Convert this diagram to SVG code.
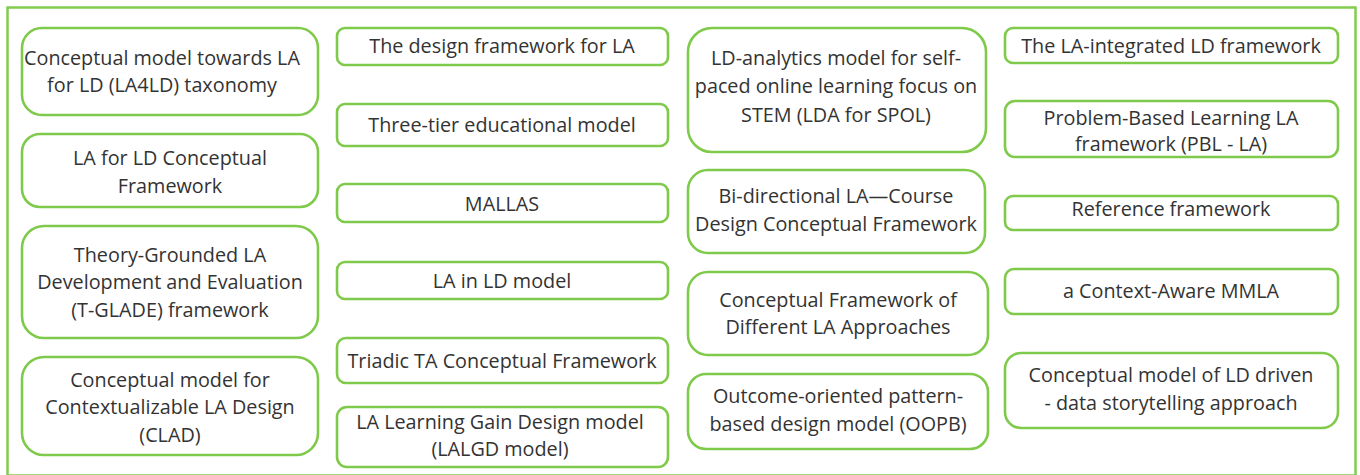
<svg xmlns="http://www.w3.org/2000/svg" width="1360" height="475" viewBox="0 0 1360 475">
  <style>
    .frame { fill: #ffffff; stroke: #82cc4e; stroke-width: 2.5; }
    .box { fill: #ffffff; stroke: #7fca4a; stroke-width: 2.6; }
    .lbl { font-family: "Open Sans", "Liberation Sans", sans-serif; font-size: 19.8px; fill: #333333; text-anchor: middle; }
  </style>
  <rect width="1360" height="475" fill="#ffffff"/>
  <rect class="frame" x="7.5" y="7.5" width="1348" height="468"/>

  <!-- column 1 -->
  <g id="n-la4ld">
    <rect class="box" x="22" y="28" width="296" height="87" rx="20"/>
    <text class="lbl"><tspan x="162" y="65">Conceptual model towards LA</tspan><tspan x="162" y="92">for LD (LA4LD) taxonomy</tspan></text>
  </g>
  <g id="n-la-for-ld">
    <rect class="box" x="22" y="134" width="296" height="73" rx="18"/>
    <text class="lbl"><tspan x="170" y="165">LA for LD Conceptual</tspan><tspan x="170" y="193">Framework</tspan></text>
  </g>
  <g id="n-tglade">
    <rect class="box" x="22" y="226" width="296" height="112" rx="22"/>
    <text class="lbl"><tspan x="170" y="262">Theory-Grounded LA</tspan><tspan x="170" y="289">Development and Evaluation</tspan><tspan x="170" y="317">(T-GLADE) framework</tspan></text>
  </g>
  <g id="n-clad">
    <rect class="box" x="22" y="357" width="296" height="98" rx="22"/>
    <text class="lbl"><tspan x="170" y="387">Conceptual model for</tspan><tspan x="170" y="414">Contextualizable LA Design</tspan><tspan x="170" y="442">(CLAD)</tspan></text>
  </g>

  <!-- column 2 -->
  <g id="n-design-fw">
    <rect class="box" x="337" y="28" width="331" height="37" rx="8"/>
    <text class="lbl" x="502" y="53">The design framework for LA</text>
  </g>
  <g id="n-three-tier">
    <rect class="box" x="337" y="104" width="331" height="42" rx="8"/>
    <text class="lbl" x="502" y="132">Three-tier educational model</text>
  </g>
  <g id="n-mallas">
    <rect class="box" x="337" y="184" width="331" height="38" rx="8"/>
    <text class="lbl" x="502" y="211">MALLAS</text>
  </g>
  <g id="n-la-in-ld">
    <rect class="box" x="337" y="262" width="331" height="37" rx="8"/>
    <text class="lbl" x="502" y="288">LA in LD model</text>
  </g>
  <g id="n-triadic">
    <rect class="box" x="337" y="338" width="331" height="45" rx="9"/>
    <text class="lbl" x="502" y="368">Triadic TA Conceptual Framework</text>
  </g>
  <g id="n-lalgd">
    <rect class="box" x="337" y="407" width="331" height="60" rx="10"/>
    <text class="lbl"><tspan x="500" y="429">LA Learning Gain Design model</tspan><tspan x="500" y="456">(LALGD model)</tspan></text>
  </g>

  <!-- column 3 -->
  <g id="n-lda-spol">
    <rect class="box" x="688" y="28" width="298" height="124" rx="24"/>
    <text class="lbl"><tspan x="836" y="65">LD-analytics model for self-</tspan><tspan x="836" y="93">paced online learning focus on</tspan><tspan x="836" y="122">STEM (LDA for SPOL)</tspan></text>
  </g>
  <g id="n-bidirectional">
    <rect class="box" x="688" y="170" width="297" height="83" rx="20"/>
    <text class="lbl"><tspan x="836" y="203">Bi-directional LA—Course</tspan><tspan x="836" y="231">Design Conceptual Framework</tspan></text>
  </g>
  <g id="n-approaches">
    <rect class="box" x="688" y="272" width="300" height="83" rx="20"/>
    <text class="lbl"><tspan x="838" y="307">Conceptual Framework of</tspan><tspan x="838" y="334">Different LA Approaches</tspan></text>
  </g>
  <g id="n-oopb">
    <rect class="box" x="688" y="374" width="300" height="75" rx="18"/>
    <text class="lbl"><tspan x="838" y="403">Outcome-oriented pattern-</tspan><tspan x="838" y="431">based design model (OOPB)</tspan></text>
  </g>

  <!-- column 4 -->
  <g id="n-la-integrated">
    <rect class="box" x="1005" y="28" width="333" height="35" rx="8"/>
    <text class="lbl" x="1171" y="53">The LA-integrated LD framework</text>
  </g>
  <g id="n-pbl-la">
    <rect class="box" x="1005" y="101" width="333" height="56" rx="10"/>
    <text class="lbl"><tspan x="1171" y="125">Problem-Based Learning LA</tspan><tspan x="1171" y="151">framework (PBL - LA)</tspan></text>
  </g>
  <g id="n-reference">
    <rect class="box" x="1005" y="196" width="333" height="34" rx="8"/>
    <text class="lbl" x="1171" y="216">Reference framework</text>
  </g>
  <g id="n-mmla">
    <rect class="box" x="1005" y="269" width="333" height="45" rx="9"/>
    <text class="lbl" x="1171" y="298">a Context-Aware MMLA</text>
  </g>
  <g id="n-storytelling">
    <rect class="box" x="1005" y="353" width="333" height="75" rx="16"/>
    <text class="lbl"><tspan x="1171" y="382">Conceptual model of LD driven</tspan><tspan x="1171" y="410">- data storytelling approach</tspan></text>
  </g>

  <!-- the framework boxes are not linked -->
  <g id="connectors"/>
</svg>
